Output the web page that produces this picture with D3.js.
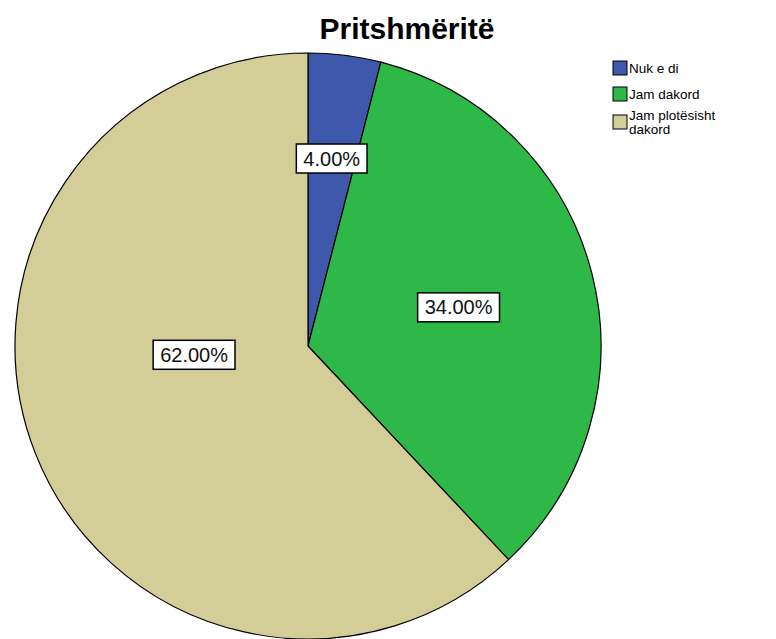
<!DOCTYPE html>
<html>
<head>
<meta charset="utf-8">
<script src="https://cdn.jsdelivr.net/npm/d3@7"></script>
<style>
  html, body { margin: 0; padding: 0; background: #fff; }
  svg { display: block; font-family: "Liberation Sans", Arial, sans-serif; }
</style>
</head>
<body>
<svg id="chart" width="776" height="639"></svg>
<script>
// Survey answers and their shares (percent)
const categories = ["Nuk e di", "Jam dakord", "Jam plotësisht dakord"];
const legendLines = [["Nuk e di"], ["Jam dakord"], ["Jam plotësisht", "dakord"]];
const values = [4, 34, 62];
const colors = ["#3E58AC", "#2EB848", "#D3CE97"];
const title = "Pritshmëritë";

const svg = d3.select("#chart");
const cx = 308, cy = 346, r = 293;

svg.append("text")
  .attr("x", 407).attr("y", 39)
  .attr("text-anchor", "middle")
  .attr("font-size", 30).attr("font-weight", "bold")
  .attr("fill", "#000")
  .text(title);

const pie = d3.pie().sort(null).value(d => d)(values);
const arc = d3.arc().innerRadius(0).outerRadius(r);

const g = svg.append("g").attr("transform", `translate(${cx},${cy})`);

g.selectAll("path.slice")
  .data(pie)
  .join("path")
  .attr("class", "slice")
  .attr("d", arc)
  .attr("fill", (d, i) => colors[i])
  .attr("stroke", "#000")
  .attr("stroke-width", 1.2)
  .attr("stroke-linejoin", "round");

// Percentage labels sit near each sector's centroid; a slice wider than
// half the pie keeps its label closer to the horizontal through the centre
const fmt = d3.format(".2f");
pie.forEach((d, i) => {
  const a = d.endAngle - d.startAngle;
  let mid = (d.startAngle + d.endAngle) / 2;
  let dist = 0.97 * (4 * r * Math.sin(a / 2)) / (3 * a);
  if (a > Math.PI) {
    mid += 0.3;
    dist = 0.39 * r;
  }
  const x = Math.sin(mid) * dist;
  const y = -Math.cos(mid) * dist;
  const lg = g.append("g").attr("transform", `translate(${x},${y})`);
  const rect = lg.append("rect").attr("fill", "#fff").attr("stroke", "#000").attr("stroke-width", 1.5);
  const t = lg.append("text")
    .attr("text-anchor", "middle")
    .attr("dominant-baseline", "central")
    .attr("font-size", 20)
    .attr("fill", "#111")
    .text(fmt(values[i]) + "%");
  const w = t.node().getComputedTextLength() + 14;
  const h = 29;
  rect.attr("x", -w / 2).attr("y", -h / 2).attr("width", w).attr("height", h);
});

// Legend: first-line baselines of each entry
const legendBase = [73, 99, 120];
const lineGap = 14;
const lgd = svg.append("g");
categories.forEach((c, i) => {
  const lines = legendLines[i];
  const b0 = legendBase[i];
  const centre = b0 - 5 + (lines.length - 1) * lineGap / 2;
  lgd.append("rect")
    .attr("x", 613).attr("y", centre - 7)
    .attr("width", 14).attr("height", 14)
    .attr("fill", colors[i]).attr("stroke", "#000").attr("stroke-width", 1);
  lines.forEach((ln, j) => {
    lgd.append("text")
      .attr("x", 629).attr("y", b0 + j * lineGap)
      .attr("font-size", 13.5)
      .attr("fill", "#000")
      .text(ln);
  });
});
</script>
</body>
</html>
